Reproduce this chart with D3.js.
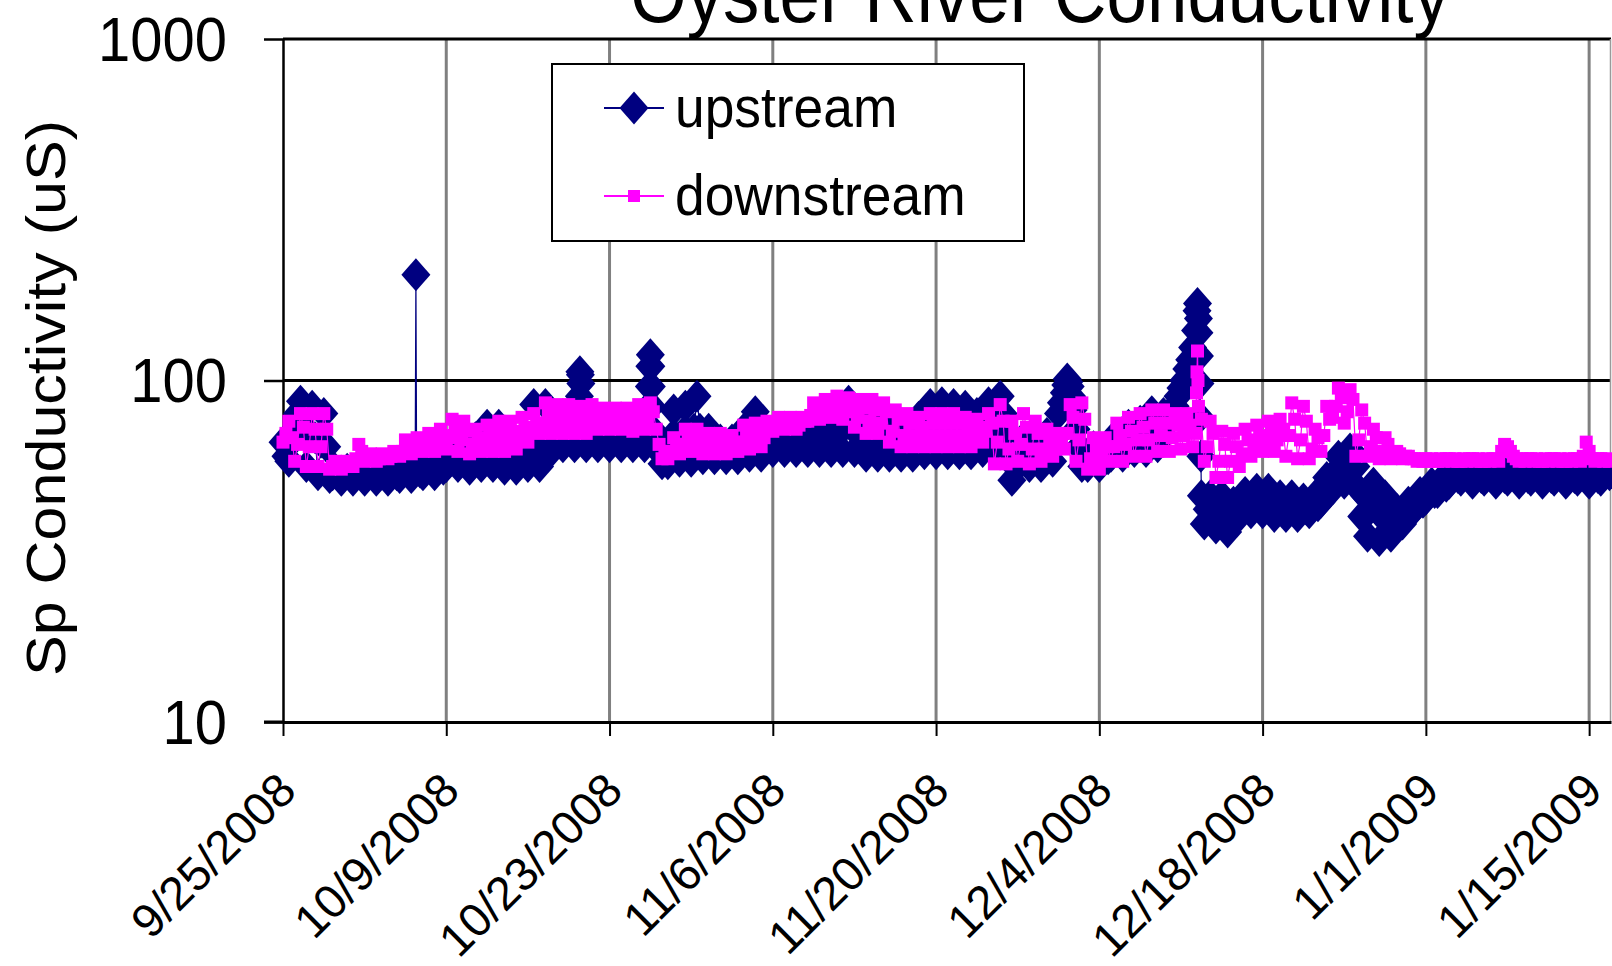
<!DOCTYPE html>
<html>
<head>
<meta charset="utf-8">
<script src="https://cdn.jsdelivr.net/npm/d3@7"></script>
<style>
  html, body { margin: 0; padding: 0; background: #fff; }
  svg { display: block; font-family: "Liberation Sans", Arial, sans-serif; }
</style>
</head>
<body>
<svg id="chart" width="1612" height="966"></svg>
<script>
// ---- chart text ----
const chartTitle = "Oyster River Conductivity";
const yAxisTitle = "Sp Conductivity (uS)";
const seriesNames = ["upstream", "downstream"];
const yTickValues = [10, 100, 1000];
const xTickLabels = ["9/25/2008", "10/9/2008", "10/23/2008", "11/6/2008", "11/20/2008",
                     "12/4/2008", "12/18/2008", "1/1/2009", "1/15/2009"];
const xDomainEnd = "1/16/2009 21:00";

// ---- logger readings: one value every 6 hours starting 9/25/2008 00:00 ----
const startTime = "9/25/2008 00:00";
const stepHours = 6;

const upstream = [
  66,60,58,66, 72,80,87,72,
  56,70,84,68, 53,66,80,64,
  52,53,55,53, 51,53,55,53,
  51,53,55,53, 51,53,55,53,
  51,53,55,53, 51,53,55,53,
  52,54,56,54, 52,54,56,54,
  53,55,57,55, 53,55,57,55,
  56,59,62,59, 56,59,62,59,
  55,61,68,61, 56,64,74,64,
  56,64,74,64, 55,58,62,58,
  55,61,68,61, 56,68,85,68,
  56,68,85,68, 62,66,70,66,
  64,68,72,68, 64,68,104,68,
  64,68,72,68, 64,68,72,68,
  64,68,72,68, 64,68,72,68,
  64,68,72,68, 64,70,119,70,
  70,62,57,63, 57,68,82,68,
  58,70,84,70, 58,72,90,72,
  59,65,72,65, 59,63,67,63,
  59,63,67,63, 59,65,72,65,
  60,70,81,70, 60,65,70,65,
  62,67,72,67, 62,67,72,67,
  62,67,72,67, 62,69,76,69,
  62,70,80,70, 62,72,82,72,
  62,74,87,74, 62,70,80,70,
  60,68,77,68, 60,67,74,67,
  60,67,75,67, 60,66,72,66,
  60,69,78,69, 61,72,85,72,
  61,72,86,72, 61,72,85,72,
  61,72,84,72, 61,70,80,70,
  62,73,86,73, 62,75,90,80,
  70,60,51,56, 56,62,68,62,
  56,62,68,62, 56,63,70,63,
  58,68,80,86, 92,101,96,82,
  72,64,56,60, 56,60,64,60,
  56,59,63,59, 60,65,70,65,
  60,67,74,67, 62,69,76,69,
  62,71,81,71, 64,72,80,78,
  76,80,84,90, 95,100,108,115,
  125,140,152,46, 38,42,46,42,
  37,41,46,41, 36,40,44,40,
  40,43,47,43, 41,44,48,44,
  41,44,48,44, 40,43,46,43,
  40,43,46,43, 40,42,45,42,
  41,43,46,43, 44,48,52,48,
  48,54,60,54, 50,56,63,58,
  56,48,40,46, 35,42,50,42,
  34,40,46,40, 35,38,42,38,
  38,41,44,41, 42,44,47,44,
  45,47,50,47, 47,49,52,49,
  50,52,55,52, 51,53,55,53,
  50,52,55,52, 51,53,55,53,
  50,52,55,52, 51,53,55,53,
  50,52,55,52, 51,53,55,53,
  50,52,55,52, 51,53,55,53,
  50,52,55,52, 51,53,55,53,
  50,52,55,52, 51,53,55,53
];

const downstream = [
  66,70,76,68, 58,65,80,73,
  56,64,80,72, 56,64,80,72,
  55,56,58,57, 55,56,58,57,
  56,59,65,62, 58,59,61,60,
  58,59,61,60, 59,60,62,61,
  60,62,67,65, 61,63,68,66,
  62,65,70,67, 62,65,72,69,
  63,68,77,72, 62,67,76,71,
  61,65,72,68, 62,66,74,70,
  62,67,76,71, 62,67,76,71,
  63,68,78,73, 66,71,80,75,
  70,75,86,81, 70,75,85,80,
  70,75,85,80, 70,75,84,79,
  70,75,85,80, 72,76,83,79,
  72,76,83,79, 72,76,83,79,
  71,76,85,80, 72,77,86,81,
  72,65,59,62, 59,62,68,65,
  61,65,72,68, 62,65,72,69,
  61,64,70,67, 61,64,70,67,
  61,64,69,66, 62,66,74,70,
  63,67,75,71, 64,68,76,72,
  71,73,78,76, 72,74,78,76,
  72,74,78,76, 76,79,86,83,
  77,81,88,84, 78,82,90,86,
  77,81,89,85, 73,78,88,83,
  70,76,88,82, 70,75,86,81,
  66,71,82,77, 64,69,80,75,
  64,69,78,73, 64,69,80,75,
  64,69,80,75, 64,69,80,75,
  64,69,78,73, 64,68,77,73,
  66,71,80,75, 57,66,85,76,
  57,63,76,70, 58,65,80,73,
  57,63,76,70, 58,63,72,67,
  60,63,70,67, 63,70,85,78,
  58,67,86,77, 55,59,68,64,
  55,59,68,64, 58,64,75,69,
  58,65,78,71, 60,67,80,73,
  60,67,82,75, 62,69,82,75,
  62,68,80,74, 63,69,80,74,
  64,70,84,77, 58,64,76,70,
  52,58,71,65, 52,58,70,64,
  56,61,72,67, 60,65,74,69,
  62,67,76,71, 62,67,77,72,
  60,69,86,77, 59,67,84,76,
  59,63,72,68, 62,69,84,77,
  78,84,95,89, 75,81,94,88,
  60,67,82,75, 60,64,72,68,
  59,62,68,65, 59,60,62,61,
  59,60,60,59, 59,58,59,58,
  59,58,59,58, 58,59,58,59,
  59,58,59,58, 58,59,58,59,
  59,58,59,58, 58,59,58,59,
  59,58,62,65, 64,62,60,59,
  58,59,58,59, 59,58,59,58,
  58,59,58,59, 59,58,59,58,
  58,59,58,59, 59,58,60,66,
  62,59,58,59, 59,58,59,58
];

// short-lived excursions logged between the 6-hour readings
const upstreamExtra = [
  ["10/6/2008 08:00", 56], ["10/6/2008 09:30", 204], ["10/6/2008 11:00", 55],
  ["10/20/2008 09:00", 78], ["10/20/2008 10:00", 90], ["10/20/2008 11:00", 106],
  ["10/20/2008 13:00", 98], ["10/20/2008 14:00", 86], ["10/20/2008 15:00", 76],
  ["10/26/2008 09:00", 84], ["10/26/2008 10:00", 96], ["10/26/2008 11:00", 110],
  ["10/26/2008 13:00", 110], ["10/26/2008 14:00", 96], ["10/26/2008 15:00", 84],
  ["11/30/2008 21:00", 86], ["12/1/2008 03:00", 97], ["12/1/2008 09:00", 99], ["12/1/2008 15:00", 90],
  ["12/12/2008 09:00", 160], ["12/12/2008 10:00", 168], ["12/12/2008 13:00", 138],
  ["12/12/2008 14:00", 118], ["12/12/2008 15:00", 98], ["12/12/2008 16:00", 78], ["12/12/2008 17:00", 60]
];
const downstreamExtra = [
  ["12/12/2008 08:00", 92], ["12/12/2008 09:00", 106], ["12/12/2008 10:00", 122], ["12/12/2008 11:00", 100]
];

// ---- colours ----
const upstreamColor = "#000080";
const downstreamColor = "#FF00FF";

// ---- build ----
const parseTime = d3.timeParse("%m/%d/%Y %H:%M");
const parseDay = d3.timeParse("%m/%d/%Y");
const t0 = parseTime(startTime);

function buildSeries(values, extra) {
  const pts = values.map((v, i) => ({ t: d3.timeHour.offset(t0, i * stepHours), v }));
  extra.forEach(([s, v]) => pts.push({ t: parseTime(s), v }));
  return pts.sort((a, b) => a.t - b.t);
}
const upSeries = buildSeries(upstream, upstreamExtra);
const downSeries = buildSeries(downstream, downstreamExtra);

const plot = { left: 283, right: 1611, top: 39, bottom: 722 };
const svg = d3.select("#chart");

const x = d3.scaleTime()
  .domain([parseDay(xTickLabels[0]), parseTime(xDomainEnd)])
  .range([plot.left, plot.right]);
const y = d3.scaleLog()
  .domain([10, 1000])
  .range([plot.bottom, plot.top]);

const tickDates = xTickLabels.map(parseDay);

// vertical gridlines
svg.append("g").selectAll("line")
  .data(tickDates.slice(1))
  .join("line")
  .attr("x1", d => x(d)).attr("x2", d => x(d))
  .attr("y1", plot.top).attr("y2", plot.bottom)
  .attr("stroke", "#808080").attr("stroke-width", 3);

// horizontal major gridlines
svg.append("g").selectAll("line")
  .data(yTickValues.slice(1))
  .join("line")
  .attr("x1", plot.left).attr("x2", plot.right)
  .attr("y1", d => y(d)).attr("y2", d => y(d))
  .attr("stroke", "#000").attr("stroke-width", 3);

// right edge of plot area
svg.append("line")
  .attr("x1", plot.right - 0.5).attr("x2", plot.right - 0.5)
  .attr("y1", plot.top).attr("y2", plot.bottom)
  .attr("stroke", "#9a9a9a").attr("stroke-width", 1.5);

// y axis
const yAxis = d3.axisLeft(y).tickValues(yTickValues).tickFormat(d3.format("d"))
  .tickSize(19).tickSizeOuter(0);
const gy = svg.append("g").attr("transform", `translate(${plot.left},0)`).call(yAxis);
gy.select(".domain").attr("stroke", "#000").attr("stroke-width", 2.5);
gy.selectAll(".tick line").attr("stroke", "#000").attr("stroke-width", 2.5);
gy.selectAll(".tick text")
  .attr("x", 0).attr("y", 0).attr("dy", null)
  .attr("transform", "translate(-56,21) scale(0.92,1)")
  .attr("text-anchor", "end")
  .attr("fill", "#000")
  .style("font-size", "63px")
  .style("font-family", "'Liberation Sans', Arial, sans-serif");

// x axis
const xAxis = d3.axisBottom(x).tickValues(tickDates)
  .tickFormat((d, i) => xTickLabels[i])
  .tickSize(14).tickSizeOuter(0);
const gx = svg.append("g").attr("transform", `translate(0,${plot.bottom})`).call(xAxis);
gx.select(".domain").attr("stroke", "#000").attr("stroke-width", 3);
gx.selectAll(".tick line").attr("stroke", "#000").attr("stroke-width", 2);
gx.selectAll(".tick text")
  .attr("x", 0).attr("y", 0).attr("dy", null)
  .attr("transform", "translate(15,71) rotate(-45)")
  .attr("text-anchor", "end")
  .attr("fill", "#000")
  .style("font-size", "47px")
  .style("font-family", "'Liberation Sans', Arial, sans-serif");
// extend bottom axis line to the y tick length
svg.append("line")
  .attr("x1", plot.left - 19).attr("x2", plot.left)
  .attr("y1", plot.bottom).attr("y2", plot.bottom)
  .attr("stroke", "#000").attr("stroke-width", 3);

// series
const line = d3.line().x(d => x(d.t)).y(d => y(d.v));
const diamond = "M0,-16.5L14.5,0L0,16.5L-14.5,0Z";
const square = "M-6.5,-6.5H6.5V6.5H-6.5Z";

function drawSeries(data, color, shape) {
  const g = svg.append("g");
  g.append("path").datum(data)
    .attr("d", line).attr("fill", "none")
    .attr("stroke", color).attr("stroke-width", 1.2);
  g.selectAll("path.mk").data(data).join("path")
    .attr("class", "mk")
    .attr("d", shape)
    .attr("transform", d => `translate(${x(d.t)},${y(d.v)})`)
    .attr("fill", color);
}
drawSeries(upSeries, upstreamColor, diamond);
drawSeries(downSeries, downstreamColor, square);

// title
svg.append("text")
  .attr("transform", "translate(1040,22) scale(0.92,1)")
  .attr("text-anchor", "middle")
  .style("font-size", "79px")
  .text(chartTitle);

// y axis title
svg.append("text")
  .attr("transform", "translate(65,398) rotate(-90) scale(1,0.92)")
  .attr("text-anchor", "middle")
  .style("font-size", "61px")
  .text(yAxisTitle);

// legend
const lg = svg.append("g");
lg.append("rect")
  .attr("x", 552).attr("y", 64).attr("width", 472).attr("height", 177)
  .attr("fill", "#fff").attr("stroke", "#000").attr("stroke-width", 2);
const legendRows = [
  { name: seriesNames[0], color: upstreamColor, shape: diamond, cy: 108, base: 127 },
  { name: seriesNames[1], color: downstreamColor, shape: "M-6,-6H6V6H-6Z", cy: 196, base: 215 }
];
legendRows.forEach(r => {
  lg.append("line").attr("x1", 604).attr("x2", 664)
    .attr("y1", r.cy).attr("y2", r.cy)
    .attr("stroke", r.color).attr("stroke-width", 2);
  lg.append("path").attr("d", r.shape)
    .attr("transform", `translate(634,${r.cy})`).attr("fill", r.color);
  lg.append("text")
    .attr("transform", `translate(675,${r.base}) scale(0.92,1)`)
    .style("font-size", "58px")
    .text(r.name);
});
</script>
</body>
</html>
